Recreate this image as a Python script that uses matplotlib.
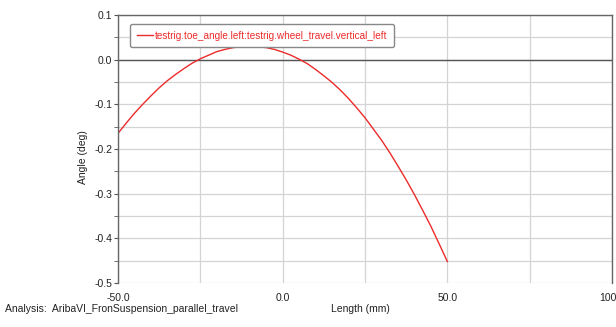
import matplotlib
matplotlib.use("Agg")
import matplotlib.pyplot as plt
from matplotlib.ticker import MultipleLocator, FixedLocator

# данные
travel_mm = [-50, -47.5, -45, -42.5, -40, -37.5, -35, -32.5, -30, -27.5, -25,
             -22.5, -20, -17.5, -15, -12.5, -10, -7.5, -5, -2.5, 0,
             2.5, 5, 7.5, 10, 12.5, 15, 17.5, 20, 22.5, 25,
             27.5, 30, 32.5, 35, 37.5, 40, 42.5, 45, 47.5, 50]
toe_deg = [-0.165, -0.142, -0.120, -0.100, -0.081, -0.063, -0.047, -0.033, -0.020, -0.008, 0.002,
           0.010, 0.018, 0.023, 0.027, 0.029, 0.030, 0.029, 0.027, 0.023, 0.017,
           0.010, 0.001, -0.009, -0.022, -0.036, -0.051, -0.068, -0.087, -0.108, -0.130,
           -0.155, -0.180, -0.208, -0.238, -0.269, -0.302, -0.337, -0.373, -0.412, -0.452]
series_name = "testrig.toe_angle.left:testrig.wheel_travel.vertical_left"
x_ticks = [-50, 0, 50, 100]
y_ticks = [-0.5, -0.4, -0.3, -0.2, -0.1, 0.0, 0.1]

plt.rcParams["font.family"] = ["Liberation Sans", "DejaVu Sans"]

fig = plt.figure(figsize=(6.16, 3.27), dpi=100)
ax = fig.add_axes([118 / 616, 1 - 283 / 327, (612 - 118) / 616, (283 - 15) / 327])

ax.plot(travel_mm, toe_deg, color="#ec2b2b", lw=1.0, label=series_name)

ax.set_xlim(-50, 100)
ax.set_ylim(-0.5, 0.1)
ax.xaxis.set_major_locator(FixedLocator(x_ticks))
ax.xaxis.set_minor_locator(MultipleLocator(25))
ax.yaxis.set_major_locator(FixedLocator(y_ticks))
ax.yaxis.set_minor_locator(MultipleLocator(0.05))
ax.set_xticklabels([f"{v:.1f}" for v in x_ticks])
ax.set_yticklabels([f"{v:.1f}" for v in y_ticks])

ax.grid(True, which="both", color="#d4d4d4", lw=0.9)
ax.set_axisbelow(True)
ax.axhline(0, color="#555555", lw=1.0, zorder=1)

ax.tick_params(which="both", direction="out", length=3, color="#555555",
               labelsize=7.5, labelcolor="#222222", pad=1)
ax.tick_params(axis="x", which="both", length=0, pad=7)
for s in ["left", "top", "right"]:
    ax.spines[s].set_color("#666666")
    ax.spines[s].set_linewidth(1.0)
ax.spines["bottom"].set_visible(False)

ax.set_ylabel("Angle (deg)", fontsize=7.5, color="#222222")
ax.yaxis.set_label_coords(-0.061, 0.47)

leg = ax.legend(loc="upper left", bbox_to_anchor=(0.015, 0.985), fontsize=7.2,
                handlelength=1.6, handletextpad=0.2, borderpad=0.65,
                fancybox=True, framealpha=1, edgecolor="#888888")
for t in leg.get_texts():
    t.set_color("#ec2b2b")

fig.text(5 / 616, 1 - 309 / 327, "Analysis:  AribaVI_FronSuspension_parallel_travel",
         fontsize=7.5, color="#222222", va="center")
fig.text(360 / 616, 1 - 309 / 327, "Length (mm)", fontsize=7.5, color="#222222",
         va="center", ha="center")

fig.savefig("out.png", dpi=100)
